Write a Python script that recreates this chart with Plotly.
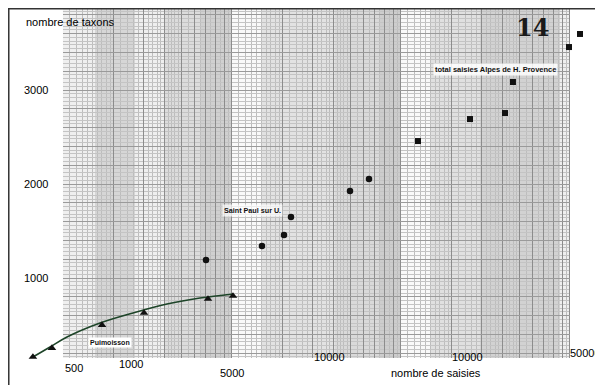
import numpy as np
import plotly.graph_objects as go

# ---------------- data ----------------
puim_x = [332, 430, 851, 1508, 3606, 5069]
puim_y = [160, 255, 500, 628, 777, 809]

curve_x = [332, 419, 528, 828, 1298, 2062, 3233, 5069]
curve_y = [160, 266, 372, 521, 628, 723, 787, 830]

stpaul_x = [3510, 7522, 10155, 11170, 24960, 32330]
stpaul_y = [1191, 1340, 1457, 1649, 1926, 2053]

total_x = [63030, 128000, 206200, 229900, 493200, 573200]
total_y = [2457, 2691, 2755, 3085, 3457, 3596]

x_tick_text = ["500", "1000", "5000", "10000", "10000", "500000"]
x_tick_at = [580, 1260, 5000, 18750, 123000, 487000]
x_tick_y = [43, 85, -11, 160, 160, 202]

y_tick_text = ["1000", "2000", "3000"]
y_tick_vals = [1000, 2000, 3000]

# ---------------- figure ----------------
OFF = 8                       # page body margin of the html page
W, H = 603 - OFF, 385 - OFF
FONT = "Liberation Sans, Arial, sans-serif"
X_RANGE = [2.3736, 5.8943]    # log10 of saisies
Y_RANGE = [-138.3, 3872.3]

GRID_X0, GRID_X1 = 500, 500000   # extent of the graph paper
GRID_Y0 = 149

# log graph-paper grid (styling)
bases = [50, 500, 5000, 50000, 500000]
major = [b * m for b in bases for m in range(1, 10)]
subs = [1 + 0.1 * i for i in range(1, 10)] + \
       [2 + 0.2 * i for i in range(1, 15) if 1e-6 < (2 + 0.2 * i) % 1 < 1 - 1e-6] + \
       [5.5, 6.5, 7.5, 8.5, 9.5]
minor = [b * s for b in bases for s in subs]

fig = go.Figure()

fig.add_trace(go.Scatter(x=curve_x, y=curve_y, mode="lines", line_shape="spline",
                         line=dict(color="#1d4428", width=1.6), hoverinfo="skip"))
fig.add_trace(go.Scatter(x=puim_x, y=puim_y, mode="markers", cliponaxis=False,
                         marker=dict(symbol="triangle-up", size=7.5, color="#111")))
fig.add_trace(go.Scatter(x=stpaul_x, y=stpaul_y, mode="markers", cliponaxis=False,
                         marker=dict(symbol="circle", size=6.5, color="#111")))
fig.add_trace(go.Scatter(x=total_x, y=total_y, mode="markers", cliponaxis=False,
                         marker=dict(symbol="square", size=6, color="#111")))


def px2x(p):
    return (p - OFF) / W


def py2y(p):
    return (385 - p) / H


shapes = []
# scan shading bands under the grid
bands = [(95, 135, 0.10), (165, 200, 0.08), (200, 232, 0.13), (262, 335, 0.05),
         (335, 380, 0.09), (380, 400, 0.14), (430, 480, 0.06), (480, 560, 0.12)]
for a, b, op in bands:
    shapes.append(dict(type="rect", xref="paper", yref="paper", layer="below",
                       x0=px2x(a), x1=px2x(b), y0=0, y1=1, line_width=0,
                       fillcolor="rgba(0,0,0,%.2f)" % op))
for a, b in [(232, 262), (400, 430)]:
    shapes.append(dict(type="rect", xref="paper", yref="paper", layer="below",
                       x0=px2x(a), x1=px2x(b), y0=0, y1=1, line_width=0,
                       fillcolor="rgba(255,255,255,0.6)"))
# white page outside the graph paper (above grid, below traces)
for (x0, x1, y0, y1) in [(1, GRID_X0, -1e4, 1e4), (GRID_X1, 1e8, -1e4, 1e4),
                         (1, 1e8, -1e4, GRID_Y0)]:
    shapes.append(dict(type="rect", xref="x", yref="y", layer="between",
                       x0=x0, x1=x1, y0=y0, y1=y1, line_width=0, fillcolor="white"))
# page border lines
shapes.append(dict(type="line", xref="paper", yref="paper", x0=0.0013, x1=0.0013,
                   y0=0, y1=1, line=dict(color="#333", width=1.5)))
shapes.append(dict(type="line", xref="paper", yref="paper", x0=0, x1=1,
                   y0=0.998, y1=0.998, line=dict(color="#333", width=1.5)))

ann = []
for t, xv, yv in zip(x_tick_text, x_tick_at, x_tick_y):
    ann.append(dict(x=np.log10(xv), y=yv, text=t, showarrow=False,
                    xanchor="left" if t == "500000" else "center",
                    font=dict(family=FONT, size=11, color="#000")))
for t, yv in zip(y_tick_text, y_tick_vals):
    ann.append(dict(x=np.log10(345), y=yv, text=t, showarrow=False,
                    font=dict(family=FONT, size=11, color="#000")))
ann.append(dict(x=np.log10(292), y=3723, text="nombre de taxons", showarrow=False,
                xanchor="left", font=dict(family=FONT, size=11, color="#000")))
ann.append(dict(x=np.log10(80540), y=-11, text="nombre de saisies", showarrow=False,
                font=dict(family=FONT, size=11, color="#000")))
ann.append(dict(x=np.log10(948), y=319, text="<b>Puimoisson</b>", showarrow=False,
                bgcolor="white", borderpad=1, font=dict(family=FONT, size=7, color="#111")))
ann.append(dict(x=np.log10(6568), y=1713, text="<b>Saint Paul sur U.</b>", showarrow=False,
                bgcolor="rgba(255,255,255,0.7)", borderpad=1,
                font=dict(family=FONT, size=7.2, color="#111")))
ann.append(dict(x=np.log10(182400), y=3223, text="<b>total saisies Alpes de H. Provence</b>",
                showarrow=False, bgcolor="rgba(255,255,255,0.85)", borderpad=1,
                font=dict(family=FONT, size=7.5, color="#111")))
ann.append(dict(x=np.log10(298100), y=3660, text="<b>14</b>", showarrow=False,
                font=dict(family="DejaVu Serif, serif", size=24, color="#1a1a1a")))

fig.update_layout(
    width=W, height=H, margin=dict(l=0, r=0, t=0, b=0),
    paper_bgcolor="white", plot_bgcolor="#efefef", showlegend=False,
    shapes=shapes, annotations=ann,
    xaxis=dict(type="log", range=X_RANGE, tickmode="array", tickvals=major,
               showticklabels=False, ticks="", showgrid=True, gridcolor="#8c8c8c",
               gridwidth=1, zeroline=False, showline=False, fixedrange=True,
               minor=dict(tickmode="array", tickvals=minor, showgrid=True,
                          gridcolor="#bdbdbd", gridwidth=0.7, ticks="")),
    yaxis=dict(range=Y_RANGE, tick0=0, dtick=200, showticklabels=False, ticks="",
               showgrid=True, gridcolor="#9a9a9a", gridwidth=1, zeroline=False,
               showline=False, fixedrange=True,
               minor=dict(dtick=40, showgrid=True, gridcolor="#c4c4c4",
                          gridwidth=0.7, ticks="")),
)

fig.write_html("out.html")
